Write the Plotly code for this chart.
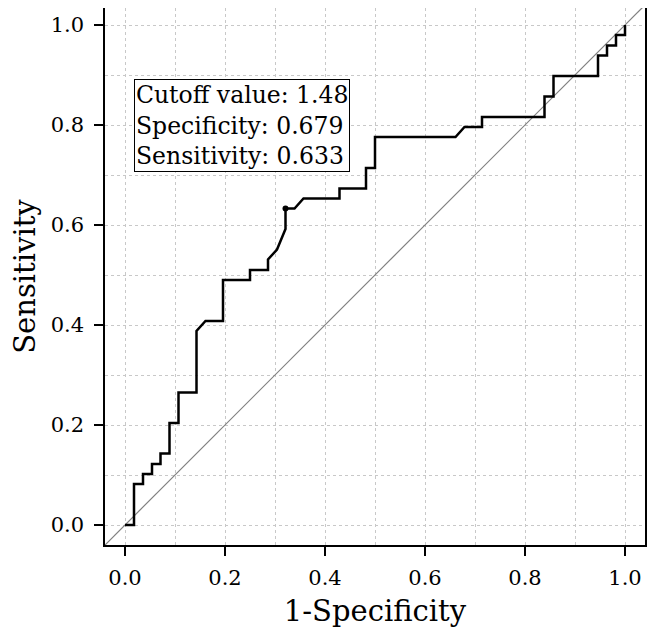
import plotly.graph_objects as go

# ROC curve points (1-Specificity, Sensitivity)
fpr = [0.0, 0.018, 0.018, 0.036, 0.036, 0.054, 0.054, 0.071, 0.071, 0.089, 0.089,
       0.107, 0.107, 0.143, 0.143, 0.161, 0.196, 0.196, 0.250, 0.250, 0.286, 0.286,
       0.304, 0.321, 0.321, 0.339, 0.357, 0.429, 0.429, 0.482, 0.482, 0.500, 0.500,
       0.661, 0.679, 0.714, 0.714, 0.839, 0.839, 0.857, 0.857, 0.946, 0.946, 0.964,
       0.964, 0.982, 0.982, 1.0, 1.0]
tpr = [0.0, 0.0, 0.082, 0.082, 0.102, 0.102, 0.122, 0.122, 0.143, 0.143, 0.204,
       0.204, 0.265, 0.265, 0.388, 0.408, 0.408, 0.490, 0.490, 0.510, 0.510, 0.531,
       0.551, 0.592, 0.633, 0.633, 0.653, 0.653, 0.673, 0.673, 0.714, 0.714, 0.776,
       0.776, 0.796, 0.796, 0.816, 0.816, 0.857, 0.857, 0.898, 0.898, 0.939, 0.939,
       0.959, 0.959, 0.980, 0.980, 1.0]

cutoff_value = 1.48
specificity = 0.679
sensitivity = 0.633
ref_line = [-0.04, 1.04]
tick_vals = [0.0, 0.2, 0.4, 0.6, 0.8, 1.0]
tick_text = ["0.0", "0.2", "0.4", "0.6", "0.8", "1.0"]

FONT = "DejaVu Serif"

fig = go.Figure()
fig.add_trace(go.Scatter(x=ref_line, y=ref_line, mode="lines",
                         line=dict(color="#808080", width=1.2), hoverinfo="skip",
                         showlegend=False))
fig.add_trace(go.Scatter(x=fpr, y=tpr, mode="lines",
                         line=dict(color="black", width=2.5), showlegend=False))
fig.add_trace(go.Scatter(x=[1 - specificity], y=[sensitivity], mode="markers",
                         marker=dict(color="black", size=6), showlegend=False))

fig.add_annotation(
    x=0.018, y=0.892, xref="x", yref="y", xanchor="left", yanchor="top",
    text=(f"Cutoff value: {cutoff_value:.2f}<br>Specificity: {specificity:.3f}"
          f"<br>Sensitivity: {sensitivity:.3f}"),
    showarrow=False, align="left",
    font=dict(family=FONT, size=23.5, color="black"),
    bgcolor="white", bordercolor="black", borderwidth=1, borderpad=1,
)

axis_common = dict(
    tickvals=tick_vals, ticktext=tick_text,
    ticks="outside", ticklen=9, tickwidth=1.5, tickcolor="black",
    showline=True, linecolor="black", linewidth=1.5, mirror=True,
    showgrid=True, gridcolor="#c8c8c8", griddash="dot", gridwidth=1,
    minor=dict(dtick=0.1, tick0=0, showgrid=True, gridcolor="#c8c8c8",
               griddash="dot", gridwidth=1, ticks=""),
    zeroline=False, automargin=False,
    tickfont=dict(family=FONT, size=21, color="black"),
    title_font=dict(family=FONT, size=29, color="black"),
)

fig.update_xaxes(**axis_common, range=[-0.04, 1.04], title_text="1-Specificity",
                 title_standoff=12, ticklabelstandoff=4)
fig.update_yaxes(**axis_common, range=[-0.04, 1.034], title_text="Sensitivity",
                 title_standoff=12, ticklabelstandoff=6)

fig.update_layout(
    width=649, height=630,
    margin=dict(l=97, r=12, t=0, b=93),
    plot_bgcolor="white", paper_bgcolor="white",
)

fig.write_html("out.html")
